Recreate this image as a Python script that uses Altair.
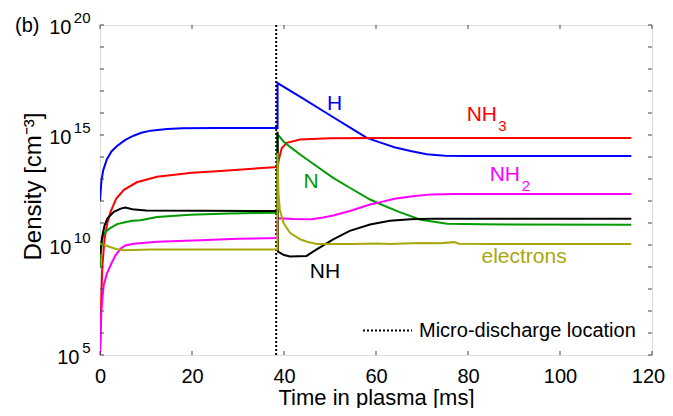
import altair as alt
import pandas as pd

FONT = "Liberation Sans"
W, H = 552, 330

# ---- series (time in ms, density in cm^-3) ----
h_time = [0, 0.3, 0.7, 1.5, 2.5, 3.7, 5.5, 7.3, 9, 11, 14.6, 18, 25, 38.6, 38.6, 44, 50, 55, 58, 61, 64, 67.5, 71, 75, 80, 115.5]
h_dens = [1.0e12, 7.9e12, 2.5e13, 7.9e13, 1.78e14, 3.16e14, 6.0e14, 9.3e14, 1.26e15, 1.58e15, 1.86e15, 2.04e15, 2.09e15, 2.09e15,
          2.29e17, 4.7e16, 7.9e15, 1.82e15, 7.4e14, 4.5e14, 2.8e14, 1.86e14, 1.35e14, 1.15e14, 1.1e14, 1.1e14]

nh3_time = [0, 0.2, 0.5, 1.0, 1.6, 2.3, 3.5, 5.2, 8, 12.4, 20, 27, 38.6, 38.9, 39.5, 40.6, 43.5, 50, 60, 115.5]
nh3_dens = [1e5, 1e7, 1e9, 2.0e10, 1.0e11, 3.2e11, 1.26e12, 3.2e12, 7.1e12, 1.26e13, 1.9e13, 2.4e13, 3.5e13,
            7.9e13, 2.5e14, 4.4e14, 6.2e14, 7.1e14, 7.4e14, 7.4e14]

n_time = [0, 0.4, 0.8, 1.5, 2.3, 3.7, 5.2, 7, 8.8, 12.4, 19.6, 28, 38.6, 38.6, 39.9, 41.4, 43.5, 47.1, 50.7, 54.3,
          58.7, 61, 65, 69.7, 75.5, 82.8, 115.5]
n_dens = [1e9, 1.6e10, 3.2e10, 4.5e10, 6.0e10, 8.9e10, 1.05e11, 1.26e11, 1.35e11, 1.86e11, 2.4e11, 2.7e11, 2.95e11,
          1.07e15, 5.1e14, 2.8e14, 1.29e14, 3.8e13, 1.12e13, 4.0e12, 1.17e12, 7.1e11, 3.2e11, 1.41e11, 9.3e10, 8.7e10, 8.3e10]

nh2_time = [0, 0.3, 0.8, 1.5, 2.3, 3.3, 4.5, 5.5, 7.3, 12.4, 21.8, 30, 38.6, 38.6, 42, 46, 48.5, 50.7, 54.3, 58.7,
            61, 64, 68, 72, 77, 115.5]
nh2_dens = [1e5, 1e7, 1.5e8, 5.0e8, 1.2e9, 3.2e9, 6.9e9, 9.5e9, 1.15e10, 1.41e10, 1.66e10, 1.9e10, 2.1e10,
            1.66e11, 1.51e11, 1.48e11, 1.78e11, 2.2e11, 3.5e11, 6.9e11, 8.9e11, 1.26e12, 1.66e12, 2.0e12, 2.1e12, 2.1e12]

nh_time = [0, 0.5, 1.0, 1.6, 3, 4.5, 5.5, 7, 10, 38.6, 38.6, 38.7, 40, 41.3, 44.9, 47.1, 50.7, 54.3, 58.7, 63, 67.5, 72, 115.5]
nh_dens = [4.0e9, 2.5e10, 7.9e10, 1.58e11, 3.2e11, 4.5e11, 5.0e11, 4.2e11, 3.7e11, 3.5e11, 1.41e15, 5.0e9, 3.5e9,
           3.0e9, 3.2e9, 6.3e9, 1.82e10, 4.4e10, 8.5e10, 1.26e11, 1.48e11, 1.55e11, 1.55e11]

e_time = [0, 1, 2, 3.5, 5.2, 7, 11, 20, 38.6, 38.6, 38.8, 39.1, 39.9, 41.3, 43.5, 45, 47.1, 50, 55, 60, 63, 66, 70,
          74, 77, 78, 85, 95, 105, 115.5]
e_dens = [1.12e10, 1.0e10, 8.3e9, 6.6e9, 5.8e9, 5.9e9, 6.3e9, 6.3e9, 6.3e9, 1.51e14, 2.3e12, 4.0e11, 1.0e11, 3.6e10,
          1.82e10, 1.41e10, 1.12e10, 1.1e10, 1.12e10, 1.17e10, 1.1e10, 1.17e10, 1.23e10, 1.2e10, 1.35e10, 1.15e10,
          1.12e10, 1.12e10, 1.1e10, 1.12e10]

series = [
    ("H", "#0000FF", h_time, h_dens),
    ("NH3", "#FF0000", nh3_time, nh3_dens),
    ("N", "#009B00", n_time, n_dens),
    ("NH2", "#FF00FF", nh2_time, nh2_dens),
    ("NH", "#000000", nh_time, nh_dens),
    ("electrons", "#A8A80E", e_time, e_dens),
]

# direct labels on the curves
label_text = ["H", "NH", "3", "N", "NH", "2", "NH", "electrons"]
label_time = [51.0, 83.0, 87.5, 45.9, 88.0, 92.6, 48.9, 92.2]
label_dens = [1.41e16, 4.2e15, 1.48e15, 4.0e12, 7.9e12, 2.8e12, 3.3e8, 1.58e9]
label_color = ["#0000FF", "#FF0000", "#FF0000", "#009B00", "#FF00FF", "#FF00FF", "#000000", "#A8A80E"]
label_size = [21, 21, 15, 21, 21, 15, 21, 21]

discharge_time = [38.3]
discharge_label = ["Micro-discharge location"]

x_ticks = [0, 20, 40, 60, 80, 100, 120]
y_ticks = [1e5, 1e6, 1e7, 1e8, 1e9, 1e10, 1e11, 1e12, 1e13, 1e14, 1e15, 1e16, 1e17, 1e18, 1e19, 1e20]
y_label_vals = [1e5, 1e10, 1e15, 1e20]
y_label_exp = ["5", "10", "15", "20"]

# ---- scales and axes ----
xs = alt.Scale(domain=[0, 120], nice=False, zero=False)
ys = alt.Scale(type="log", domain=[1e5, 1e20], nice=False)

x_axis = alt.Axis(values=x_ticks, labelFontSize=20, labelFont=FONT, labelColor="black", labelFlush=False,
                  labelOffset={"condition": {"test": "datum.value == 120", "value": -4}, "value": 0},
                  ticks=False, domain=False, grid=False, labelPadding=11,
                  title="Time in plasma [ms]", titleFont=FONT, titleFontSize=22, titleFontWeight="normal",
                  titleColor="black", titleY=49, titleBaseline="alphabetic")
y_axis = alt.Axis(labels=False, ticks=False, domain=False, grid=False,
                  title="Density [cm⁻³]", titleFont=FONT, titleFontSize=24, titleFontWeight="normal",
                  titleColor="black", titleAngle=270, titleX=-60, titleY=161, titleAlign="center",
                  titleBaseline="alphabetic")

X = lambda f: alt.X(f, scale=xs, axis=x_axis)
Y = lambda f: alt.Y(f, scale=ys, axis=y_axis)

layers = []

disc_df = pd.DataFrame({"t": discharge_time, "lbl": discharge_label})
layers.append(
    alt.Chart(disc_df).mark_rule(strokeWidth=2, color="black").encode(
        x=X("t:Q"),
        strokeDash=alt.StrokeDash("lbl:N", scale=alt.Scale(range=[[2, 2]]),
                                  legend=alt.Legend(orient="none", legendX=262, legendY=280, title=None,
                                                    symbolType="stroke", symbolSize=2401, symbolStrokeWidth=2,
                                                    symbolStrokeColor="black", labelFontSize=20, labelFont=FONT,
                                                    labelColor="black", labelLimit=400, labelOffset=6, padding=0))
    )
)

for name, col, t, d in series:
    sdf = pd.DataFrame({"t": t, "d": d, "i": list(range(len(t)))})
    layers.append(
        alt.Chart(sdf).mark_line(color=col, strokeWidth=2, clip=True).encode(
            x=X("t:Q"), y=Y("d:Q"), order="i:Q")
    )

lab_df = pd.DataFrame({"t": label_time, "d": label_dens, "txt": label_text, "c": label_color, "s": label_size})
layers.append(
    alt.Chart(lab_df).mark_text(font=FONT, align="center", baseline="alphabetic").encode(
        x=X("t:Q"), y=Y("d:Q"), text="txt:N",
        color=alt.Color("c:N", scale=None), size=alt.Size("s:Q", scale=None))
)

# inward tick marks on all four sides
xt_df = pd.DataFrame({"t": x_ticks})
yt_df = pd.DataFrame({"d": y_ticks})
TC = "#444444"
layers.append(alt.Chart(xt_df).mark_rule(color=TC).encode(x=X("t:Q"), y=alt.value(H), y2=alt.value(H - 4)))
layers.append(alt.Chart(xt_df).mark_rule(color=TC).encode(x=X("t:Q"), y=alt.value(0), y2=alt.value(4)))
layers.append(alt.Chart(yt_df).mark_rule(color=TC).encode(y=Y("d:Q"), x=alt.value(0), x2=alt.value(4)))
layers.append(alt.Chart(yt_df).mark_rule(color=TC).encode(y=Y("d:Q"), x=alt.value(W), x2=alt.value(W - 4)))

# y tick labels as 10 with superscript exponent
yl_df = pd.DataFrame({"d": y_label_vals, "e": y_label_exp})
layers.append(
    alt.Chart(yl_df).mark_text(font=FONT, fontSize=15, align="right", baseline="alphabetic", dy=-2.5,
                               color="black").encode(y=Y("d:Q"), x=alt.value(-9.5), text="e:N")
)
layers.append(
    alt.Chart(yl_df).transform_filter("length(datum.e) == 2").mark_text(
        font=FONT, fontSize=20, align="right", baseline="alphabetic", dy=9, color="black").encode(
        y=Y("d:Q"), x=alt.value(-28.5), text=alt.value("10"))
)
layers.append(
    alt.Chart(yl_df).transform_filter("length(datum.e) == 1").mark_text(
        font=FONT, fontSize=20, align="right", baseline="alphabetic", dy=9, color="black").encode(
        y=Y("d:Q"), x=alt.value(-20.5), text=alt.value("10"))
)

# panel tag
layers.append(
    alt.Chart(pd.DataFrame({"p": ["(b)"]})).mark_text(font=FONT, fontSize=20, align="left",
                                                     baseline="alphabetic", color="black").encode(
        x=alt.value(-85), y=alt.value(7), text="p:N")
)

chart = alt.layer(*layers).properties(
    width=W, height=H,
    padding={"left": 92, "top": 17, "right": 13, "bottom": 53},
    autosize=alt.AutoSizeParams(type="none"),
).configure_view(stroke="#444444", strokeWidth=1).configure(background="white")

chart.save("out.html", embed_options={"renderer": "svg", "actions": False})
